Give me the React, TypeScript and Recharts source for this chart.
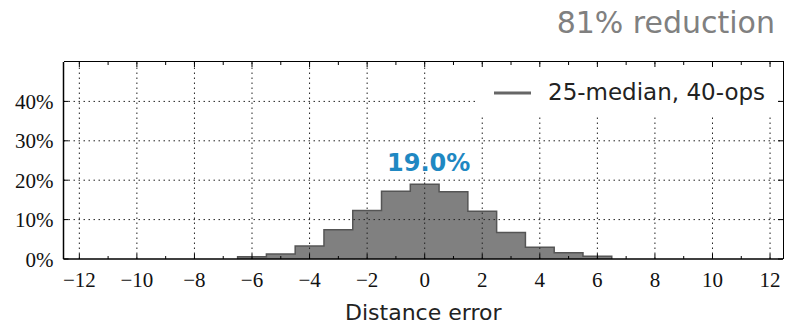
import { ComposedChart, Area, XAxis, YAxis, ReferenceLine, ReferenceDot, Legend } from 'recharts';

// histogram of distance error, one bin per integer
const binCenters = [-6, -5, -4, -3, -2, -1, 0, 1, 2, 3, 4, 5, 6];
const binPercent = [0.6, 1.3, 3.3, 7.4, 12.3, 17.2, 19.0, 17.1, 12.1, 6.7, 3.0, 1.6, 0.7];

const xTicks = [-12, -11, -10, -9, -8, -7, -6, -5, -4, -3, -2, -1, 0, 1, 2, 3, 4, 5, 6, 7, 8, 9, 10, 11, 12];
const xGrid = [-12, -10, -8, -6, -4, -2, 0, 2, 4, 6, 8, 10, 12];
const yTicks = [0, 10, 20, 30, 40];
const yGrid = [10, 20, 30, 40];
const xDomain = [-12.55, 12.45];
const yDomain = [0, 50];

const seriesName = '25-median, 40-ops';
const titleText = '81% reduction';
const xLabel = 'Distance error';

// outline points for a stepfilled histogram
const stepData = [
  { x: binCenters[0] - 0.5, y: 0 },
  ...binCenters.map((c, i) => ({ x: c - 0.5, y: binPercent[i] })),
  { x: binCenters[binCenters.length - 1] + 0.5, y: 0 },
];

const peakIdx = binPercent.indexOf(Math.max(...binPercent));

const W = 787;
const H = 324;
const MARGIN = { top: 62, right: 4, bottom: 0, left: 0 };
const Y_AXIS_W = 63.5;
const X_AXIS_H = 65;
const PLOT_LEFT = MARGIN.left + Y_AXIS_W;
const PLOT_TOP = MARGIN.top;
const PLOT_RIGHT = W - MARGIN.right;
const PLOT_H = H - MARGIN.top - MARGIN.bottom - X_AXIS_H;

const SERIF = 'Liberation Serif, Times New Roman, serif';
const SANS = 'DejaVu Sans, sans-serif';

const fmtNum = (v: number) => (v < 0 ? `\u2212${Math.abs(v)}` : String(v));

// bottom ticks + labels, mirrored inward ticks on the top spine
const BottomTick = (props: any) => {
  const { x, y, payload } = props;
  const major = payload.value % 2 === 0;
  const len = major ? 5 : 3;
  return (
    <g>
      <line x1={x} x2={x} y1={y} y2={y - len} stroke="#000" strokeWidth={1} />
      <line x1={x} x2={x} y1={PLOT_TOP} y2={PLOT_TOP + len} stroke="#000" strokeWidth={1} />
      {major && (
        <text x={x} y={y + 27.5} textAnchor="middle" style={{ fontFamily: SERIF, fontSize: 21 }} fill="#111">
          {fmtNum(payload.value)}
        </text>
      )}
    </g>
  );
};

// left ticks + labels, mirrored inward ticks on the right spine
const LeftTick = (props: any) => {
  const { x, y, payload } = props;
  return (
    <g>
      <line x1={x} x2={x + 5} y1={y} y2={y} stroke="#000" strokeWidth={1} />
      <line x1={PLOT_RIGHT} x2={PLOT_RIGHT - 5} y1={y} y2={y} stroke="#000" strokeWidth={1} />
      <text x={x - 10} y={y} dy="0.36em" textAnchor="end" style={{ fontFamily: SERIF, fontSize: 21 }} fill="#111">
        {`${payload.value}%`}
      </text>
    </g>
  );
};

const PeakLabel = (props: any) => {
  const { viewBox } = props;
  const cx = viewBox.x + viewBox.width / 2;
  const cy = viewBox.y + viewBox.height / 2;
  return (
    <text x={cx + 4} y={cy - 13} textAnchor="middle" style={{ fontFamily: SANS, fontWeight: 'bold', fontSize: 24 }} fill="#1f88c2">
      {`${binPercent[peakIdx].toFixed(1)}%`}
    </text>
  );
};

const LegendBox = () => (
  <svg width={299} height={48}>
    <line x1={16} x2={53} y1={26} y2={26} stroke="#666" strokeWidth={3} />
    <text x={70} y={33} style={{ fontFamily: SANS, fontSize: 23 }} fill="#222">
      {seriesName}
    </text>
  </svg>
);

export default function App() {
  return (
    <div style={{ position: 'absolute', left: 0, top: 0, width: W, height: H }}>
      <ComposedChart width={W} height={H} data={stepData} margin={MARGIN}>
        <Area
          xAxisId="x"
          yAxisId="y"
          dataKey="y"
          name={seriesName}
          type="stepAfter"
          fill="#808080"
          fillOpacity={1}
          stroke="#555"
          strokeWidth={1.5}
          isAnimationActive={false}
        />
        {xGrid.map((v) => (
          <ReferenceLine key={`gx${v}`} xAxisId="x" yAxisId="y" x={v} stroke="#222" strokeDasharray="1.5 3.5" strokeWidth={1} />
        ))}
        {yGrid.map((v) => (
          <ReferenceLine key={`gy${v}`} xAxisId="x" yAxisId="y" y={v} stroke="#222" strokeDasharray="1.5 3.5" strokeWidth={1} />
        ))}
        <XAxis
          xAxisId="x"
          dataKey="x"
          type="number"
          domain={xDomain}
          allowDataOverflow
          ticks={xTicks}
          interval={0}
          tickLine={false}
          tickSize={0}
          tickMargin={0}
          tick={<BottomTick />}
          axisLine={{ stroke: '#000', strokeWidth: 1.5 }}
          height={X_AXIS_H}
          label={{ value: xLabel, position: 'insideBottom', offset: 4, fontFamily: SANS, fontSize: 22, fill: '#222' }}
        />
        <YAxis
          yAxisId="y"
          type="number"
          domain={yDomain}
          allowDataOverflow
          ticks={yTicks}
          interval={0}
          tickLine={false}
          tickSize={0}
          tickMargin={0}
          tick={<LeftTick />}
          axisLine={{ stroke: '#000', strokeWidth: 1.5 }}
          width={Y_AXIS_W}
        />
        <ReferenceDot
          xAxisId="x"
          yAxisId="y"
          x={binCenters[peakIdx]}
          y={binPercent[peakIdx]}
          r={1}
          fill="none"
          stroke="none"
          label={<PeakLabel />}
        />
        <Legend
          layout="horizontal"
          verticalAlign="middle"
          align="center"
          content={<LegendBox />}
          wrapperStyle={{ top: 67, left: 478, width: 299, height: 48, background: '#fff' }}
        />
        <text x={775} y={33} textAnchor="end" style={{ fontFamily: SANS, fontSize: 30 }} fill="#808080">
          {titleText}
        </text>
      </ComposedChart>
      {/* top and right spines of the axes box */}
      <div
        style={{
          position: 'absolute',
          left: PLOT_LEFT,
          top: PLOT_TOP - 0.75,
          width: PLOT_RIGHT - PLOT_LEFT + 0.75,
          height: PLOT_H + 0.75,
          borderTop: '1.5px solid #000',
          borderRight: '1.5px solid #000',
          boxSizing: 'border-box',
          pointerEvents: 'none',
        }}
      />
    </div>
  );
}
